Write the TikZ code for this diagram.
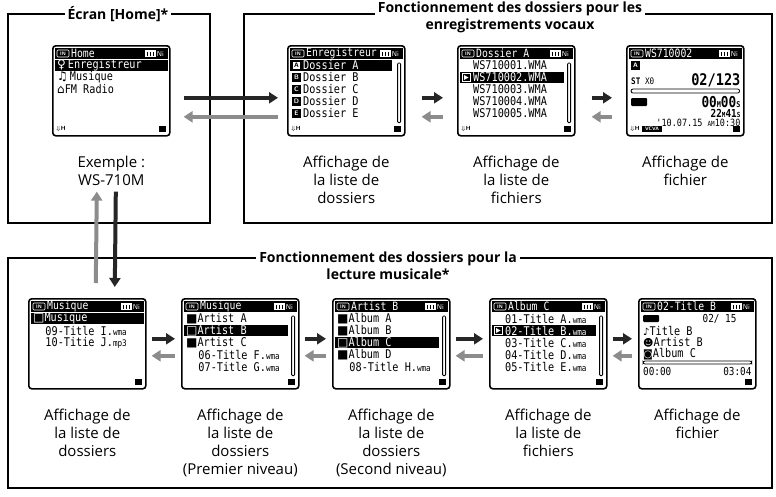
\documentclass[tikz,border=0pt]{standalone}
\usepackage{fontspec}
\setmainfont{Open Sans}
\newfontfamily\lcd[FakeStretch=0.85]{DejaVu Sans Mono}
\newfontfamily\sym{DejaVu Sans}
\usetikzlibrary{calc,arrows.meta}
\definecolor{gr}{RGB}{140,140,140}
\tikzset{
 screen/.style={draw,line width=1.6pt,rounded corners=3pt,minimum width=117pt,minimum height=90pt,inner sep=0,anchor=north west},
 frame/.style={line width=1.6pt},
 ttl/.style={fill=white,font=\bfseries\fontsize{14}{17}\selectfont,align=center,inner sep=3pt},
 lab/.style={font=\fontsize{15}{18}\selectfont,align=center,anchor=north},
 lt/.style={font=\lcd\fontsize{12}{12}\selectfont,anchor=west,inner sep=0},
 ar/.style={line width=4pt,-{Triangle[width=11pt,length=9pt]}},
 fw/.style={ar,black!85},
 bw/.style={ar,gr},
}
\newcommand\scrn[4]{% name, x, y, title
 \node[screen] (#1) at (#2,#3) {};
 \fill ($(#1.north west)+(3,3)$) rectangle ($(#1.north east)+(-3,14)$);
 \draw[white,line width=0.6pt,rounded corners=1pt] ($(#1.north west)+(5,5)$) rectangle +(12,7);
 \node[white,font=\sffamily\bfseries\fontsize{5}{5}\selectfont,inner sep=0] at ($(#1.north west)+(11,8.5)$) {IN};
 \node[lt,white,font=\lcd\fontsize{11.5}{11.5}\selectfont] at ($(#1.north west)+(19,8.5)$) {#4};
 \fill[white] ($(#1.north east)+(-26,5)$) rectangle +(11,7);
 \foreach \k in {0,1,2}{\fill ($(#1.north east)+(-24+3*\k,6.5)$) rectangle +(1.2,4);}
 \node[white,font=\sffamily\fontsize{7}{7}\selectfont,inner sep=0,anchor=west] at ($(#1.north east)+(-14,8.8)$) {Ni};
 \fill ($(#1.south east)+(-12,-5)$) rectangle +(7,-6);
}
\newcommand\rw[3]{\node[lt] at ($(#1.north west)+(5,20.5+12*#2)$) {#3};}
\newcommand\hl[3]{\fill ($(#1.north west)+(3,15+12*#2)$) rectangle ($(#1.north east)+(-#3,26+12*#2)$);}
\newcommand\hrw[3]{\node[lt,white] at ($(#1.north west)+(5,20.5+12*#2)$) {#3};}
\newcommand\sbar[1]{\draw[line width=0.8pt,rounded corners=1pt] ($(#1.north east)+(-8,18)$) rectangle ($(#1.south east)+(-5,-14)$);}
\newcommand\mic[1]{\node[font=\sffamily\bfseries\fontsize{6}{6}\selectfont,inner sep=0,anchor=west] at ($(#1.south west)+(4,-8)$) {$\Downarrow$H};}
\newcommand\ltr[3]{\fill ($(#1.north west)+(5,16+12*#2)$) rectangle +(9,9);
 \node[white,font=\sffamily\bfseries\fontsize{6.5}{6.5}\selectfont,inner sep=0] at ($(#1.north west)+(9.5,20.5+12*#2)$) {#3};}
\begin{document}
\begin{tikzpicture}[x=1pt,y=-1pt]
\useasboundingbox[fill=white] (0,0) rectangle (776,496);
% frames
\draw[frame] (8,14) rectangle (210,223);
\draw[frame] (244,223) -- (244,14) -- (772,14) -- (772,223) -- cycle;
\draw[frame] (8,258) rectangle (772,488);
\node[ttl] (t1) at (118,14) {Écran [Home]*};
\node[ttl] (t2) at (510,17) {Fonctionnement des dossiers pour les\\enregistrements vocaux};
\node[ttl] (t3) at (388,266) {Fonctionnement des dossiers pour la\\lecture musicale*};
% home
\scrn{h}{52}{45}{Home}
\hl{h}{0}{3}
\hrw{h}{0}{\sym♀\lcd\,Enregistreur}
\rw{h}{1}{\sym♫\lcd\,Musique}
\rw{h}{2}{\sym⌂\lcd FM Radio}
\mic{h}
\node[lab] (lh) at ($(h.south)+(0,16)$) {Exemple :\\WS-710M};
% rec screens
\scrn{r1}{287}{45}{Enregistreur}
\hl{r1}{0}{14}
\foreach \i/\l in {0/A,1/B,2/C,3/D,4/E}{\ltr{r1}{\i}{\l}}
\fill[white] ($(r1.north west)+(6,17)$) rectangle +(7,7);
\node[font=\sffamily\bfseries\fontsize{6.5}{6.5}\selectfont,inner sep=0] at ($(r1.north west)+(9.5,20.5)$) {A};
\node[lt,white] at ($(r1.north west)+(16,20.5)$) {Dossier A};
\foreach \i/\l in {1/B,2/C,3/D,4/E}{\node[lt] at ($(r1.north west)+(16,20.5+12*\i)$) {Dossier \l};}
\sbar{r1}\mic{r1}
\scrn{r2}{457}{45}{Dossier A}
\hl{r2}{1}{12}
\foreach \i/\n in {0/1,2/3,3/4,4/5}{\node[lt] at ($(r2.north west)+(16,20.5+12*\i)$) {WS71000\n.WMA};}
\node[lt,white] at ($(r2.north west)+(16,32.5)$) {WS710002.WMA};
\draw[white,line width=0.7pt] ($(r2.north west)+(5,28.5)$) rectangle +(8,8);
\fill[white] ($(r2.north west)+(7,30)$) -- +(0,5) -- +(4.5,2.5) -- cycle;
\sbar{r2}\mic{r2}
\scrn{r3}{626}{45}{WS710002}
\ltr{r3}{0}{A}
\node[lt,font=\lcd\fontsize{9}{9}\selectfont] at ($(r3.north west)+(5,36)$) {\textbf{ST} X0};
\node[lt,font=\lcd\bfseries\fontsize{16}{16}\selectfont,anchor=east] at ($(r3.north east)+(-4,35)$) {02/123};
\draw[line width=0.8pt,rounded corners=2pt] ($(r3.north west)+(5,44)$) rectangle ($(r3.north east)+(-5,48)$);
\fill[rounded corners=1pt] ($(r3.north west)+(5,53)$) rectangle +(16,8);
\node[lt,font=\lcd\bfseries\fontsize{15}{15}\selectfont,anchor=east] at ($(r3.north east)+(-4,57)$) {00{\fontsize{8}{8}\selectfont M}00{\fontsize{8}{8}\selectfont S}};
\node[lt,font=\lcd\bfseries\fontsize{11}{11}\selectfont,anchor=east] at ($(r3.north east)+(-4,68)$) {22{\fontsize{7}{7}\selectfont M}41{\fontsize{7}{7}\selectfont S}};
\node[lt,font=\lcd\fontsize{10}{10}\selectfont,anchor=east] at ($(r3.north east)+(-4,77.5)$) {'10.07.15 {\fontsize{7}{7}\selectfont AM}10:30};
\mic{r3}
\fill ($(r3.south west)+(16,-5)$) rectangle +(20,-6);
\node[white,font=\sffamily\bfseries\fontsize{5}{5}\selectfont,inner sep=0] at ($(r3.south west)+(26,-8)$) {VCVA};
\node[lab] (l1) at ($(r1.south)+(0,16)$) {Affichage de\\la liste de\\dossiers};
\node[lab] (l2) at ($(r2.south)+(0,16)$) {Affichage de\\la liste de\\fichiers};
\node[lab] (l3) at ($(r3.south)+(0,16)$) {Affichage de\\fichier};
% music screens
\scrn{m1}{28}{298}{Musique}
\hl{m1}{0}{3}
\node[lt,white] at ($(m1.north west)+(5,20.5)$) {\sym□\lcd Musique};
\rw{m1}{1}{\ \ 09-Title I.{\fontsize{9}{9}\selectfont wma}}
\rw{m1}{2}{\ \ 10-Titie J.{\fontsize{9}{9}\selectfont mp3}}
\scrn{m2}{181}{298}{Musique}
\hl{m2}{1}{12}
\rw{m2}{0}{\sym■\lcd Artist A}
\hrw{m2}{1}{\sym□\lcd Artist B}
\rw{m2}{2}{\sym■\lcd Artist C}
\rw{m2}{3}{\ \ 06-Title F.{\fontsize{9}{9}\selectfont wma}}
\rw{m2}{4}{\ \ 07-Title G.{\fontsize{9}{9}\selectfont wma}}
\sbar{m2}
\scrn{m3}{332}{298}{Artist B}
\hl{m3}{2}{12}
\rw{m3}{0}{\sym■\lcd Album A}
\rw{m3}{1}{\sym■\lcd Album B}
\hrw{m3}{2}{\sym□\lcd Album C}
\rw{m3}{3}{\sym■\lcd Album D}
\rw{m3}{4}{\ \ 08-Title H.{\fontsize{9}{9}\selectfont wma}}
\sbar{m3}
\scrn{m4}{489}{298}{Album C}
\hl{m4}{1}{12}
\foreach \i/\t in {0/01-Title A,2/03-Title C,3/04-Title D,4/05-Title E}{\node[lt] at ($(m4.north west)+(16,20.5+12*\i)$) {\t.{\fontsize{9}{9}\selectfont wma}};}
\node[lt,white] at ($(m4.north west)+(16,32.5)$) {02-Title B.{\fontsize{9}{9}\selectfont wma}};
\draw[white,line width=0.7pt] ($(m4.north west)+(5,28.5)$) rectangle +(8,8);
\fill[white] ($(m4.north west)+(7,30)$) -- +(0,5) -- +(4.5,2.5) -- cycle;
\sbar{m4}
\scrn{m5}{638}{298}{02-Title B}
\fill[rounded corners=1pt] ($(m5.north west)+(5,17)$) rectangle +(16,7);
\node[lt,anchor=east,font=\lcd\fontsize{11}{11}\selectfont] at ($(m5.north east)+(-20,20.5)$) {02/ 15};
\rw{m5}{1}{\sym\fontsize{10}{10}\selectfont♪\lcd\fontsize{12}{12}\selectfont Title B}
\rw{m5}{2}{\sym\fontsize{10}{10}\selectfont☻\lcd\fontsize{12}{12}\selectfont Artist B}
\rw{m5}{3}{\sym\fontsize{10}{10}\selectfont◙\lcd\fontsize{12}{12}\selectfont Album C}
\draw[line width=0.8pt,rounded corners=2pt] ($(m5.north west)+(5,63)$) rectangle ($(m5.north east)+(-5,66)$);
\node[lt,font=\lcd\fontsize{11}{11}\selectfont] at ($(m5.north west)+(5,73)$) {00:00};
\node[lt,anchor=east,font=\lcd\fontsize{11}{11}\selectfont] at ($(m5.north east)+(-5,73)$) {03:04};
\node[lab] at ($(m1.south)+(0,16)$) {Affichage de\\la liste de\\dossiers};
\node[lab] at ($(m2.south)+(0,16)$) {Affichage de\\la liste de\\dossiers\\(Premier niveau)};
\node[lab] at ($(m3.south)+(0,16)$) {Affichage de\\la liste de\\dossiers\\(Second niveau)};
\node[lab] at ($(m4.south)+(0,16)$) {Affichage de\\la liste de\\fichiers};
\node[lab] at ($(m5.south)+(0,16)$) {Affichage de\\fichier};
% arrows top
\draw[fw] ($(h.east)+(13,7)$) -- ($(r1.west)+(-9,7)$);
\draw[bw] ($(r1.west)+(-9,26)$) -- ($(h.east)+(13,26)$);
\draw[fw] ($(r1.east)+(16,7)$) -- ($(r2.west)+(-14,7)$);
\draw[bw] ($(r2.west)+(-14,26)$) -- ($(r1.east)+(16,26)$);
\draw[fw] ($(r2.east)+(16,7)$) -- ($(r3.west)+(-14,7)$);
\draw[bw] ($(r3.west)+(-14,26)$) -- ($(r2.east)+(16,26)$);
% vertical
\draw[bw] ($(m1.north)+(8.5,-15)$) -- ($(h.south)+(-14.5,55)$);
\draw[fw] ($(h.south)+(4.5,55)$) -- ($(m1.north)+(27.5,-11)$);
% arrows bottom
\foreach \a/\b in {m1/m2,m2/m3,m3/m4,m4/m5}{
 \draw[fw] ($(\a.east)+(5,-5)$) -- ($(\b.west)+(-6,-5)$);
 \draw[bw] ($(\b.west)+(-6,12)$) -- ($(\a.east)+(5,12)$);
}
\end{tikzpicture}
\end{document}
